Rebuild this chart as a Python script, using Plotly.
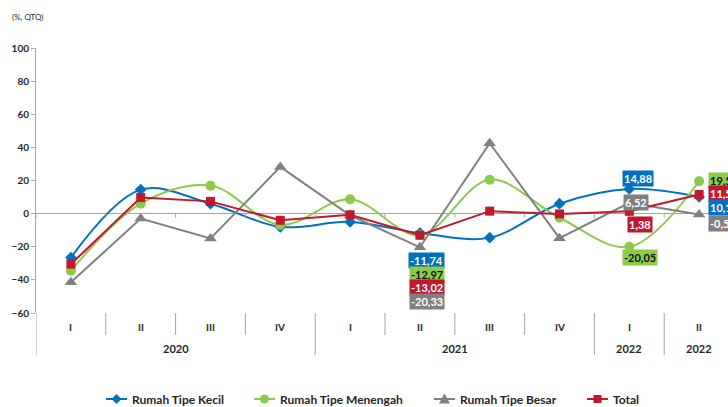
import plotly.graph_objects as go

# Quarterly house price growth (%, QTQ)
quarters = ["I", "II", "III", "IV", "I", "II", "III", "IV", "I", "II"]
year_labels = ["2020", "2021", "2022", "2022"]
year_spans = [4, 4, 1, 1]

kecil = [-26.5, 14.5, 6.0, -8.0, -5.0, -11.74, -14.5, 6.0, 14.88, 10.12]
menengah = [-34.5, 6.0, 16.9, -6.8, 8.7, -12.97, 20.5, -2.5, -20.05, 19.55]
besar = [-41.5, -3.0, -15.0, 28.2, -1.0, -20.33, 42.5, -14.8, 6.52, -0.54]
total = [-30.5, 9.7, 7.4, -4.0, -0.7, -13.02, 1.5, -0.2, 1.38, 11.53]

y_ticks = [-60, -40, -20, 0, 20, 40, 60, 80, 100]

FONT = "Lato"
TXT = "#262626"
AX = "#A6A6A6"

W, H = 728, 407
ML, MR, MT, MB = 36, 0, 48, 94
plot_w = W - ML - MR
plot_h = H - MT - MB
cat_w = 69.8

series = [
    dict(name="Rumah Tipe Kecil", y=kecil, color="#0070C0", symbol="diamond", size=9, shape="spline", txt="white"),
    dict(name="Rumah Tipe Menengah", y=menengah, color="#8CCB4A", symbol="circle", size=10, shape="spline", txt="#111111"),
    dict(name="Rumah Tipe Besar", y=besar, color="#808080", symbol="triangle-up", size=11, shape="linear", txt="white"),
    dict(name="Total", y=total, color="#C0182C", symbol="square", size=9, shape="linear", txt="white"),
]

x = list(range(len(quarters)))

fig = go.Figure()
for s in series:
    fig.add_trace(go.Scatter(
        x=x, y=s["y"], name=s["name"], mode="lines+markers",
        line=dict(color=s["color"], width=2, shape=s["shape"], smoothing=1.0),
        marker=dict(color=s["color"], symbol=s["symbol"], size=s["size"]),
        cliponaxis=False, showlegend=False,
    ))

# value labels: (series index, point index) -> (xshift, yshift, xanchor)
label_pos = {
    (0, 5): (7, -27, "center"), (1, 5): (7, -39, "center"),
    (3, 5): (7, -52, "center"), (2, 5): (7, -54, "center"),
    (0, 8): (9, 10, "center"), (2, 8): (7, 0, "center"),
    (3, 8): (11, -13, "center"), (1, 8): (11, -11, "center"),
    (1, 9): (9, 1, "left"), (3, 9): (9, 1, "left"),
    (0, 9): (9, -11, "left"), (2, 9): (9, -9, "left"),
}

annotations = []
for (si, pi), (dx, dy, xa) in label_pos.items():
    s = series[si]
    v = s["y"][pi]
    annotations.append(dict(
        x=pi, y=v, xref="x", yref="y", text=f"{v:.2f}".replace(".", ","),
        showarrow=False, xshift=dx, yshift=dy, xanchor=xa, yanchor="middle",
        bgcolor=s["color"], borderpad=1,
        font=dict(family=FONT, size=11, color=s["txt"], weight="bold"),
    ))

# quarter labels
for i, q in enumerate(quarters):
    annotations.append(dict(
        x=i, y=0, xref="x", yref="paper", text=q, showarrow=False,
        yshift=-14, yanchor="middle",
        font=dict(family=FONT, size=10, color=TXT, weight="bold"),
    ))

# year labels and group dividers
shapes = []
start = 0
for lab, span in zip(year_labels, year_spans):
    center = start + (span - 1) / 2
    annotations.append(dict(
        x=center, y=0, xref="x", yref="paper", text=lab, showarrow=False,
        yshift=-35, yanchor="middle",
        font=dict(family=FONT, size=11, color=TXT, weight="bold"),
    ))
    start += span

group_edges = set()
acc = 0
for span in year_spans:
    group_edges.add(acc)
    acc += span
group_edges.add(acc)

for b in range(len(quarters) + 1):
    bx = b - 0.5
    y_len = 42 if b in group_edges else 22
    if b != 0:
        shapes.append(dict(
            type="line", xref="x", yref="paper", x0=bx, x1=bx,
            ysizemode="pixel", yanchor=0, y0=0, y1=-y_len,
            line=dict(color=AX, width=1),
        ))
    # small tick on the zero line
    shapes.append(dict(
        type="line", xref="x", yref="y", x0=bx, x1=bx,
        ysizemode="pixel", yanchor=0, y0=0, y1=-4,
        line=dict(color=AX, width=1),
    ))

# extend the value axis line down through the category labels
shapes.append(dict(
    type="line", xref="x", yref="paper", x0=-0.5, x1=-0.5,
    ysizemode="pixel", yanchor=0, y0=0, y1=-42,
    line=dict(color=AX, width=1),
))

annotations.append(dict(
    x=0, y=1, xref="paper", yref="paper", text="(%, QTQ)", showarrow=False,
    xshift=-26, yshift=31, xanchor="left", yanchor="middle",
    font=dict(family=FONT, size=8, color=TXT),
))

# legend drawn below the chart: line sample, marker glyph and name
legend_left_px = [106, 254, 434, 587]
legend_y_px = 399
ly = (MT + plot_h - legend_y_px) / plot_h


def px_to_paper_x(px):
    return (px - ML) / plot_w


marker_paths = {
    "diamond": "M 0 5 L 5 0 L 0 -5 L -5 0 Z",
    "circle": None,
    "triangle-up": "M -5.5 -4.5 L 5.5 -4.5 L 0 5.5 Z",
    "square": "M -4 -4 L 4 -4 L 4 4 L -4 4 Z",
}

for s, left in zip(series, legend_left_px):
    cx = px_to_paper_x(left + 10.5)
    shapes.append(dict(
        type="line", xref="paper", yref="paper",
        xsizemode="pixel", xanchor=cx, x0=-10.5, x1=10.5,
        ysizemode="pixel", yanchor=ly, y0=0, y1=0,
        line=dict(color=s["color"], width=2),
    ))
    if s["symbol"] == "circle":
        shapes.append(dict(
            type="circle", xref="paper", yref="paper",
            xsizemode="pixel", xanchor=cx, x0=-4.5, x1=4.5,
            ysizemode="pixel", yanchor=ly, y0=-4.5, y1=4.5,
            fillcolor=s["color"], line=dict(width=0),
        ))
    else:
        shapes.append(dict(
            type="path", xref="paper", yref="paper",
            xsizemode="pixel", xanchor=cx,
            ysizemode="pixel", yanchor=ly,
            path=marker_paths[s["symbol"]],
            fillcolor=s["color"], line=dict(width=0),
        ))
    annotations.append(dict(
        x=px_to_paper_x(left + 24), y=ly, xref="paper", yref="paper",
        text=s["name"], showarrow=False, xanchor="left", yanchor="middle",
        font=dict(family=FONT, size=12, color=TXT, weight="bold"),
    ))

fig.update_layout(
    width=W, height=H,
    margin=dict(l=ML, r=MR, t=MT, b=MB, autoexpand=False),
    paper_bgcolor="white", plot_bgcolor="white",
    showlegend=False,
    xaxis=dict(
        range=[-0.5, -0.5 + plot_w / cat_w], showticklabels=False,
        showgrid=False, zeroline=False, showline=False, ticks="",
    ),
    yaxis=dict(
        range=[-60, 100], tickvals=y_ticks, showgrid=False,
        zeroline=True, zerolinecolor=AX, zerolinewidth=1,
        showline=True, linecolor=AX, linewidth=1,
        ticks="outside", ticklen=4, tickcolor=AX,
        tickfont=dict(family=FONT, size=10, color=TXT, weight="bold"),
    ),
    annotations=annotations,
    shapes=shapes,
)

fig.write_html("out.html")
